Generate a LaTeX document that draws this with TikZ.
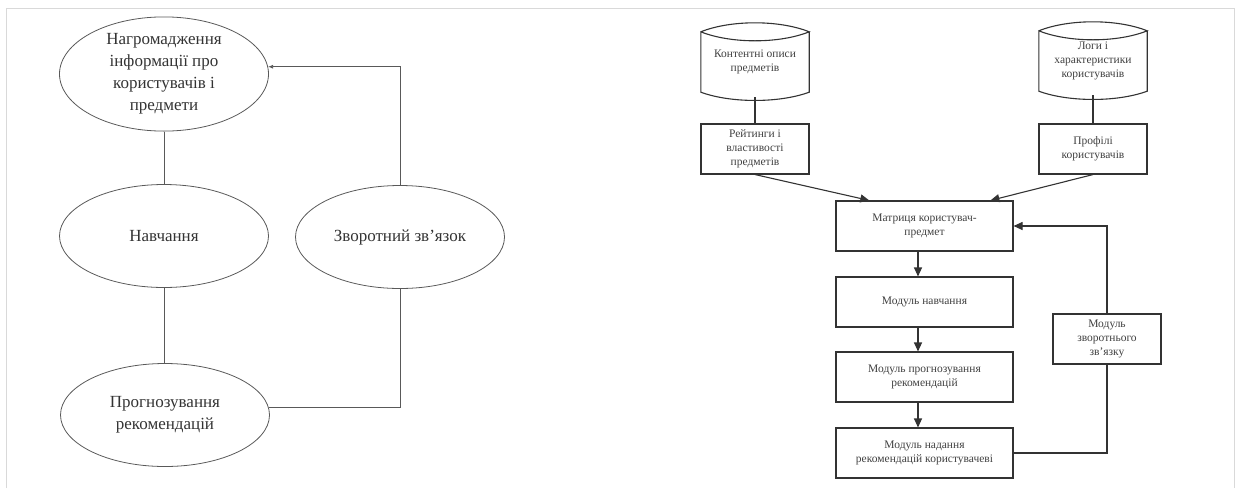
\documentclass[tikz,border=0pt]{standalone}
\usepackage{fontspec}
\setmainfont{Liberation Serif}
\usetikzlibrary{shapes.geometric,arrows.meta,calc}

\tikzset{
    oval/.style={ellipse, draw=black!65, line width=0.8pt, minimum width=209pt, minimum height=103pt, inner sep=0pt, align=center, text=black!80, font=\fontsize{17}{22}\selectfont},
    modbox/.style={rectangle, draw=black!80, line width=1.1pt, minimum width=177pt, minimum height=50pt, inner sep=0pt, align=center, text=black!75, font=\fontsize{11.5}{14}\selectfont},
    smallbox/.style={modbox, minimum width=108pt},
    dbshape/.style={rectangle, draw=none, minimum width=108pt, minimum height=60pt, inner sep=0pt, align=center, text=black!75, font=\fontsize{11.5}{14}\selectfont},
    thinline/.style={draw=black!65, line width=0.8pt},
    boldline/.style={draw=black!80, line width=1.1pt},
    tip/.style={-{Triangle[length=9pt,width=8pt]}},
}

\begin{document}
\begin{tikzpicture}[x=1pt, y=-1pt]
    \useasboundingbox (0,0) rectangle (1238,488);
    % frame of the page
    \draw[black!15, line width=1pt] (6.5,488) -- (6.5,8.5) -- (1234,8.5) -- (1234,488);

    % left diagram
    \node[oval] (nag) at (164,74) {Нагромадження\\інформації про\\користувачів і\\предмети};
    \node[oval] (nav) at (164,236) {Навчання};
    \node[oval] (prog) at (165,415) {Прогнозування\\рекомендацій};
    \node[oval] (zv) at (400,237) {Зворотний зв’язок};

    \draw[thinline] (nag.south) -- (nav.north);
    \draw[thinline] (nav.south) -- (nav.south |- prog.north);
    \draw[thinline] (prog.4) -| (zv.south);
    \draw[thinline, -{Latex[length=5pt,width=4pt]}] (zv.north) |- (nag.4);

    % right diagram
    \node[dbshape] (cont) at (755,62) {Контентні описи\\предметів};
    \node[dbshape] (logs) at (1093,61) {Логи і\\характеристики\\користувачів};
    \foreach \db in {cont,logs} {
        \begin{scope}[yshift=3.5pt]
        \draw[boldline] (\db.north west) .. controls +(30,-12) and +(-30,-12) .. (\db.north east)
            .. controls +(-30,12) and +(30,12) .. (\db.north west) -- (\db.south west)
            .. controls +(30,11) and +(-30,11) .. (\db.south east) -- (\db.north east);
        \end{scope}
    }

    \node[smallbox] (rat) at (755,149) {Рейтинги і\\властивості\\предметів};
    \node[smallbox] (prof) at (1093,149) {Профілі\\користувачів};

    \node[modbox] (mat) at (924.5,226) {Матриця користувач-\\предмет};
    \node[modbox] (mnav) at (924.5,302) {Модуль навчання};
    \node[modbox] (mprog) at (924.5,377) {Модуль прогнозування\\рекомендацій};
    \node[modbox] (mnad) at (924.5,453) {Модуль надання\\рекомендацій користувачеві};
    \node[smallbox] (mzv) at (1107,339) {Модуль\\зворотнього\\зв’язку};

    \coordinate (matl) at ($(mat.north west)!0.19!(mat.north east)$);
    \coordinate (matr) at ($(mat.north west)!0.87!(mat.north east)$);

    \draw[boldline] (cont) ++(0,35) -- (rat.north);
    \draw[boldline] (logs) ++(0,34) -- (prof.north);
    \draw[boldline, tip] (rat.south) -- (matl);
    \draw[boldline, tip] (prof.south) -- (matr);
    \draw[boldline, tip] (mat.south -| 918,0) -- (mnav.north -| 918,0);
    \draw[boldline, tip] (mnav.south -| 918,0) -- (mprog.north -| 918,0);
    \draw[boldline, tip] (mprog.south -| 918,0) -- (mnad.north -| 918,0);
    \draw[boldline] (mnad.east) -| (mzv.south);
    \draw[boldline, tip] (mzv.north) |- (mat.east);
\end{tikzpicture}
\end{document}
